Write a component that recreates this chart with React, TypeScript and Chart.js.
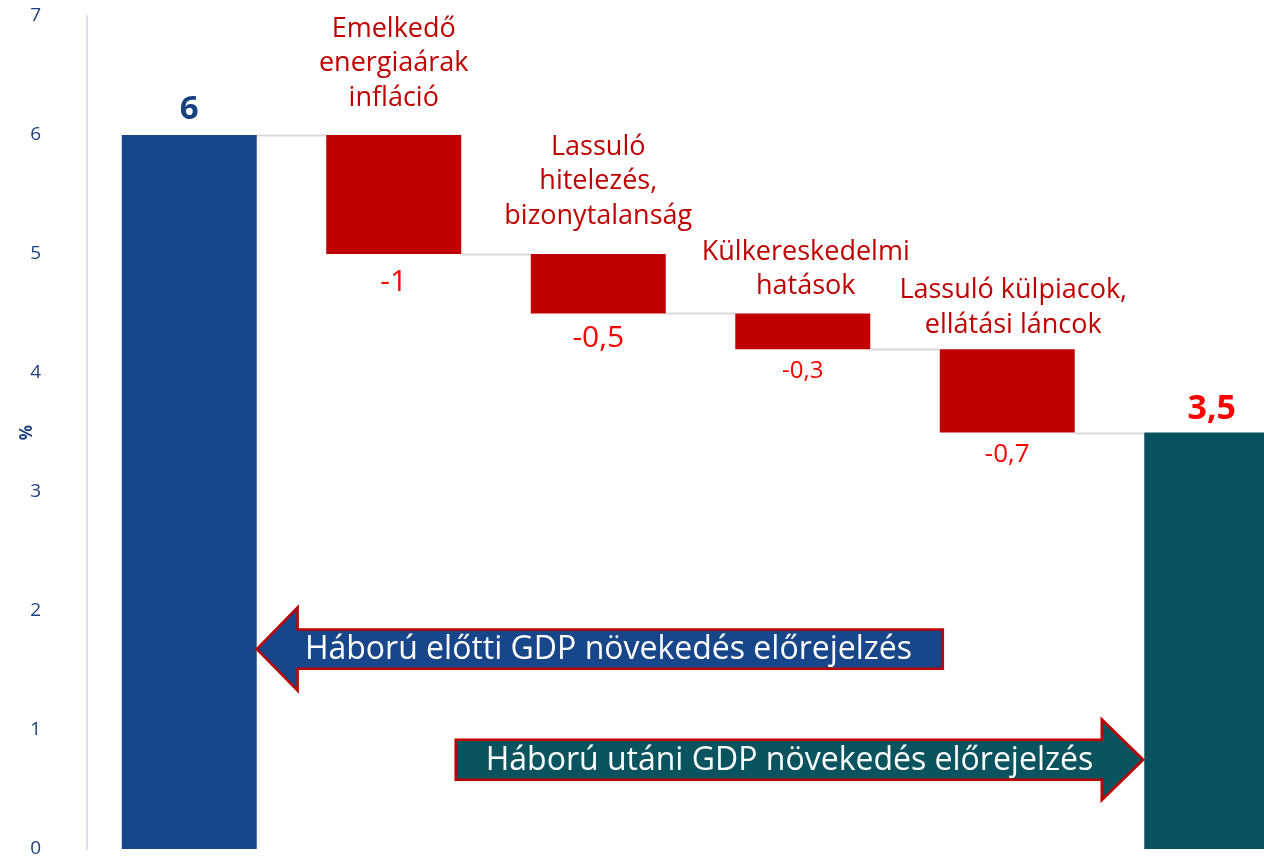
import React, { useEffect, useRef } from 'react';
import { Chart, registerables } from 'chart.js';

Chart.register(...registerables);

// ---- data ----
const categories = [
  'Háború előtti GDP',
  'Emelkedő energiaárak infláció',
  'Lassuló hitelezés, bizonytalanság',
  'Külkereskedelmi hatások',
  'Lassuló külpiacok, ellátási láncok',
  'Háború utáni GDP',
];
const categoryLines: string[][] = [
  [],
  ['Emelkedő', 'energiaárak', 'infláció'],
  ['Lassuló', 'hitelezés,', 'bizonytalanság'],
  ['Külkereskedelmi', 'hatások'],
  ['Lassuló külpiacok,', 'ellátási láncok'],
  [],
];
const startValue = 6;
const changes = [-1, -0.5, -0.3, -0.7];
const endValue = 3.5;
const valueLabels = ['6', '-1', '-0,5', '-0,3', '-0,7', '3,5'];
const yMin = 0;
const yMax = 7;
const yStep = 1;
const axisTitle = '%';
const arrowTexts = [
  'Háború előtti GDP növekedés előrejelzés',
  'Háború utáni GDP növekedés előrejelzés',
];

// ---- styles / layout ----
const barColors = ['#17468b', '#c00000', '#c00000', '#c00000', '#c00000', '#08525f'];
const axisColor = '#1f3f7f';
const valueLabelStyle = [
  { size: 33, bold: true, color: '#17407f', offset: -25 },
  { size: 30, bold: false, color: '#ff0000', offset: 28 },
  { size: 30, bold: false, color: '#ff0000', offset: 25 },
  { size: 24, bold: false, color: '#ff0000', offset: 22 },
  { size: 26, bold: false, color: '#ff0000', offset: 22 },
  { size: 34, bold: true, color: '#ff0000', offset: -23 },
];
const categoryLabelStyle = [
  null,
  { dx: 0, gap: 37 },
  { dx: 0, gap: 38 },
  { dx: 3, gap: 27 },
  { dx: 6, gap: 24 },
  null,
];
const arrowLayout = [
  { dir: 'left', tipX: 0.33, headX: 0.53, endX: 3.685, y: 1.68, bodyHalf: 0.165, headHalf: 0.35, fill: '#17468b', textX: 2.05 },
  { dir: 'right', tipX: 4.665, headX: 4.462, endX: 1.303, y: 0.75, bodyHalf: 0.168, headHalf: 0.34, fill: '#0a5460', textX: 2.935 },
];

const FONT = "'Open Sans', 'Noto Sans', sans-serif";

function buildFloating(): [number, number][] {
  const out: [number, number][] = [[0, startValue]];
  let level = startValue;
  for (const c of changes) {
    const next = Math.round((level + c) * 1000) / 1000;
    out.push([Math.min(level, next), Math.max(level, next)]);
    level = next;
  }
  out.push([0, endValue]);
  return out;
}

function levels(): number[] {
  const out = [startValue];
  let level = startValue;
  for (const c of changes) {
    level = Math.round((level + c) * 1000) / 1000;
    out.push(level);
  }
  return out;
}

const waterfallPlugin = {
  id: 'waterfallDecor',
  beforeDatasetsDraw(chart: any) {
    const ctx = chart.ctx;
    const meta = chart.getDatasetMeta(0);
    const ys = chart.scales.y;
    const lv = levels();
    ctx.save();
    ctx.strokeStyle = '#d9d9d9';
    ctx.lineWidth = 2;
    for (let i = 0; i < meta.data.length - 1; i++) {
      const a = meta.data[i];
      const b = meta.data[i + 1];
      const y = Math.round(ys.getPixelForValue(lv[i])) + 0.5;
      ctx.beginPath();
      ctx.moveTo(a.x + a.width / 2, y);
      ctx.lineTo(b.x - b.width / 2, y);
      ctx.stroke();
    }
    ctx.restore();
  },
  afterDatasetsDraw(chart: any) {
    const ctx = chart.ctx;
    const meta = chart.getDatasetMeta(0);
    const xs = chart.scales.x;
    const ys = chart.scales.y;
    ctx.save();
    ctx.textAlign = 'center';
    ctx.textBaseline = 'middle';
    meta.data.forEach((el: any, i: number) => {
      const top = Math.min(el.y, el.base);
      const bottom = Math.max(el.y, el.base);
      const st = valueLabelStyle[i];
      ctx.font = `${st.bold ? 'bold ' : ''}${st.size}px ${FONT}`;
      ctx.fillStyle = st.color;
      const y = st.offset < 0 ? top + st.offset : bottom + st.offset;
      ctx.fillText(valueLabels[i], el.x, y);

      const cs = categoryLabelStyle[i];
      const lines = categoryLines[i];
      if (cs && lines.length) {
        ctx.font = `27px ${FONT}`;
        ctx.fillStyle = '#c00000';
        const lh = 34.5;
        lines.forEach((ln, k) => {
          const yy = top - cs.gap - (lines.length - 1 - k) * lh;
          ctx.fillText(ln, el.x + cs.dx, yy);
        });
      }
    });

    // arrows
    arrowLayout.forEach((a, i) => {
      const tx = xs.getPixelForValue(a.tipX);
      const hx = xs.getPixelForValue(a.headX);
      const ex = xs.getPixelForValue(a.endX);
      const yc = ys.getPixelForValue(a.y);
      const bt = ys.getPixelForValue(a.y + a.bodyHalf);
      const bb = ys.getPixelForValue(a.y - a.bodyHalf);
      const ht = ys.getPixelForValue(a.y + a.headHalf);
      const hb = ys.getPixelForValue(a.y - a.headHalf);
      ctx.beginPath();
      ctx.moveTo(tx, yc);
      ctx.lineTo(hx, ht);
      ctx.lineTo(hx, bt);
      ctx.lineTo(ex, bt);
      ctx.lineTo(ex, bb);
      ctx.lineTo(hx, bb);
      ctx.lineTo(hx, hb);
      ctx.closePath();
      ctx.fillStyle = a.fill;
      ctx.fill();
      ctx.lineWidth = 2.5;
      ctx.lineJoin = 'miter';
      ctx.strokeStyle = '#c00000';
      ctx.stroke();
      ctx.font = `32px ${FONT}`;
      ctx.fillStyle = '#ffffff';
      ctx.textAlign = 'center';
      ctx.textBaseline = 'middle';
      ctx.fillText(arrowTexts[i], xs.getPixelForValue(a.textX), yc + 1);
    });
    ctx.restore();
  },
};

export default function App() {
  const ref = useRef<HTMLCanvasElement | null>(null);
  useEffect(() => {
    if (!ref.current) return;
    Chart.defaults.font.family = FONT;
    const chart = new Chart(ref.current, {
      type: 'bar',
      data: {
        labels: categories,
        datasets: [
          {
            data: buildFloating() as any,
            backgroundColor: barColors,
            borderWidth: 0,
            borderSkipped: false,
            barPercentage: 0.66,
            categoryPercentage: 1,
          },
        ],
      },
      options: {
        responsive: false,
        animation: false,
        devicePixelRatio: 1,
        layout: { padding: { top: 16, bottom: 9, left: 0, right: 16 } },
        plugins: { legend: { display: false }, tooltip: { enabled: false } },
        scales: {
          x: { display: false, offset: true, grid: { display: false } },
          y: {
            min: yMin,
            max: yMax,
            ticks: { stepSize: yStep, padding: 46, color: axisColor, font: { size: 19, family: FONT } },
            grid: { display: false, drawTicks: false },
            border: { display: true, color: '#dfe3e8', width: 2 },
            title: {
              display: true,
              text: axisTitle,
              color: axisColor,
              font: { size: 17, weight: 'bold', family: FONT },
              padding: { top: 17, bottom: 0 },
            },
            afterFit(scale: any) {
              scale.width = 87;
              scale.paddingTop = 0;
              scale.paddingBottom = 0;
            },
          } as any,
        },
      },
      plugins: [waterfallPlugin],
    });
    return () => chart.destroy();
  }, []);
  return (
    <div
      style={{
        position: 'fixed',
        left: 0,
        top: 0,
        width: 1264,
        height: 858,
        overflow: 'hidden',
        background: '#ffffff',
      }}
    >
      <canvas ref={ref} width={1330} height={858} style={{ display: 'block', width: 1330, height: 858 }} />
    </div>
  );
}
